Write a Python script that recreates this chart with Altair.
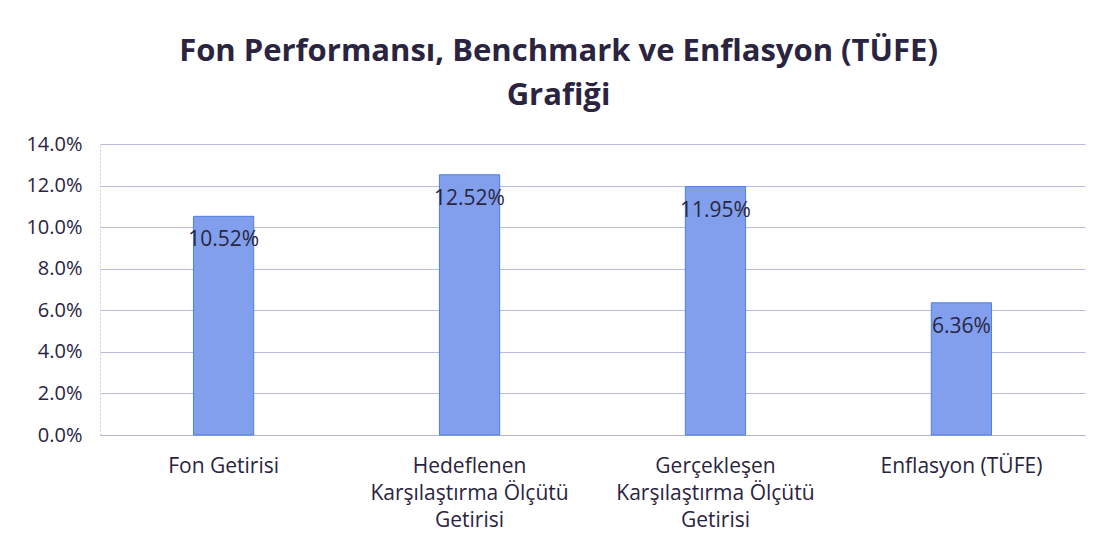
import altair as alt
import pandas as pd

categories = ["Fon Getirisi", "Hedeflenen\nKarşılaştırma Ölçütü\nGetirisi",
              "Gerçekleşen\nKarşılaştırma Ölçütü\nGetirisi", "Enflasyon (TÜFE)"]
values = [0.1052, 0.1252, 0.1195, 0.0636]
labels = ["10.52%", "12.52%", "11.95%", "6.36%"]
y_ticks = [0, 0.02, 0.04, 0.06, 0.08, 0.10, 0.12, 0.14]

df = pd.DataFrame({"cat": categories, "val": values, "lab": labels})

FONT = "Open Sans"

x = alt.X("cat:N", sort=categories, title=None,
          scale=alt.Scale(paddingInner=0.755, paddingOuter=0.38),
          axis=alt.Axis(labelAngle=0, labelExpr="split(datum.label, '\\n')",
                        labelFontSize=21, labelColor="#2a2440", labelFont=FONT,
                        labelPadding=20, labelLineHeight=27, labelLimit=400,
                        ticks=False, domain=True, domainColor="#b0b4d8",
                        grid=False))
y = alt.Y("val:Q", title=None,
          scale=alt.Scale(domain=[0, 0.14], nice=False),
          axis=alt.Axis(values=y_ticks, format=".1%", labelFontSize=20,
                        labelColor="#2a2440", labelFont=FONT, labelPadding=18,
                        ticks=False, domain=True, domainColor="#c8c8d8",
                        domainDash=[2, 2], grid=True, gridColor="#b8bce0",
                        gridWidth=1))

bars = alt.Chart(df).mark_bar(color="#829fee", stroke="#4d7fe2",
                              strokeWidth=1).encode(x=x, y=y)
text = alt.Chart(df).mark_text(baseline="middle", dy=24, fontSize=21, font=FONT,
                               color="#2a2640").encode(
    x=alt.X("cat:N", sort=categories), y="val:Q", text="lab:N")

chart = (bars + text).properties(
    width=985, height=291,
    background="white",
    title=alt.TitleParams(
        text=["Fon Performansı, Benchmark ve Enflasyon (TÜFE)", "Grafiği"],
        fontSize=31, font=FONT, fontWeight="bold", color="#2a2440",
        anchor="middle", lineHeight=44, offset=22, dx=-34),
    autosize=alt.AutoSizeParams(type="none"),
    padding={"left": 92, "top": 136, "right": 14, "bottom": 115},
).configure_view(stroke=None)

chart.save("out.html", embed_options={"renderer": "svg", "actions": False})
